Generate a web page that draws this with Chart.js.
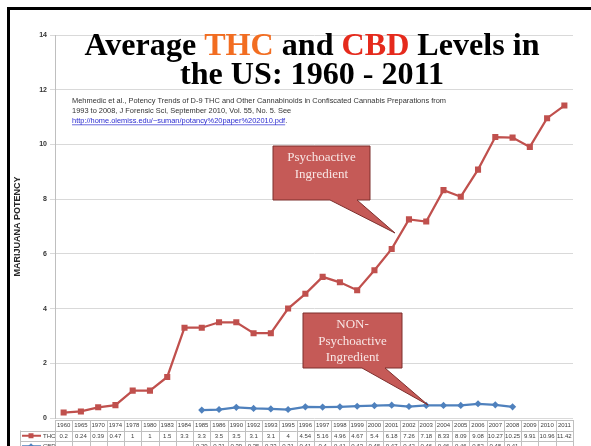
<!DOCTYPE html>
<html>
<head>
<meta charset="UTF-8">
<title>Average THC and CBD Levels in the US</title>
<script src="https://cdn.jsdelivr.net/npm/chart.js"></script>
<style>
  body { margin: 0; background: #fff; }
  #chart { display: block; }
</style>
</head>
<body>
<canvas id="chart" width="591" height="446"></canvas>
<script>
// data (Mehmedic et al. 2010 + later years)
var years = ['1960', '1965', '1970', '1974', '1978', '1980', '1983', '1984', '1985', '1986',
    '1990', '1992', '1993', '1995', '1996', '1997', '1998', '1999', '2000', '2001',
    '2002', '2003', '2004', '2005', '2006', '2007', '2008', '2009', '2010', '2011'];
var thc = [0.2, 0.24, 0.39, 0.47, 1, 1, 1.5, 3.3, 3.3, 3.5,
    3.5, 3.1, 3.1, 4, 4.54, 5.16, 4.96, 4.67, 5.4, 6.18,
    7.26, 7.18, 8.33, 8.09, 9.08, 10.27, 10.25, 9.91, 10.96, 11.42];
var cbd = [null, null, null, null, null, null, null, null, 0.29, 0.31,
    0.39, 0.35, 0.33, 0.31, 0.41, 0.4, 0.41, 0.43, 0.45, 0.47,
    0.42, 0.46, 0.46, 0.46, 0.52, 0.48, 0.41, null, null, null];

var THC_COLOR = '#c0504d';
var CBD_COLOR = '#4f81bd';

function callout(ctx, b, lines) {
    ctx.save();
    ctx.beginPath();
    ctx.moveTo(b.x, b.y);
    ctx.lineTo(b.x + b.w, b.y);
    ctx.lineTo(b.x + b.w, b.y + b.h);
    ctx.lineTo(b.b2, b.y + b.h);
    ctx.lineTo(b.tx, b.ty);
    ctx.lineTo(b.b1, b.y + b.h);
    ctx.lineTo(b.x, b.y + b.h);
    ctx.closePath();
    ctx.fillStyle = '#c55a57';
    ctx.fill();
    ctx.strokeStyle = '#7d2f2d';
    ctx.lineWidth = 1;
    ctx.stroke();
    ctx.fillStyle = '#f8e6e5';
    ctx.font = '13px "Liberation Serif"';
    ctx.textAlign = 'center';
    ctx.textBaseline = 'middle';
    lines.forEach(function (t, i) {
        ctx.fillText(t, b.x + b.w / 2, b.ly + i * 16.5);
    });
    ctx.restore();
}

var decor = {
    id: 'decor',
    afterDraw: function (chart) {
        var ctx = chart.ctx;
        var area = chart.chartArea;
        var xs = chart.scales.x;
        ctx.save();

        // slide frame
        ctx.fillStyle = '#000';
        ctx.fillRect(7, 7, 584, 3);
        ctx.fillRect(7, 7, 3, 439);

        // title
        ctx.font = 'bold 31px "Liberation Serif"';
        ctx.textBaseline = 'alphabetic';
        var l1 = [{t: 'Average ', c: '#000'}, {t: 'THC', c: '#f26d21'}, {t: ' and ', c: '#000'},
            {t: 'CBD', c: '#e52a1c'}, {t: ' Levels in', c: '#000'}];
        var l2 = [{t: 'the US: 1960 - 2011', c: '#000'}];
        var w1 = 0;
        l1.forEach(function (p) { w1 += ctx.measureText(p.t).width; });
        var sx = 455 / w1;
        [[l1, 55], [l2, 84]].forEach(function (row) {
            var tot = 0;
            row[0].forEach(function (p) { tot += ctx.measureText(p.t).width; });
            ctx.save();
            ctx.translate(312 - tot * sx / 2, row[1]);
            ctx.scale(sx, 1);
            var x = 0;
            row[0].forEach(function (p) {
                ctx.fillStyle = p.c;
                ctx.fillText(p.t, x, 0);
                x += ctx.measureText(p.t).width;
            });
            ctx.restore();
        });

        // citation
        ctx.font = '7px "Liberation Sans"';
        var c1 = 'Mehmedic et al., Potency Trends of D-9 THC and Other Cannabinoids in Confiscated Cannabis Preparations from';
        var c2 = '1993 to 2008, J Forensic Sci, September 2010, Vol. 55, No. 5. See';
        var c3 = 'http://home.olemiss.edu/~suman/potancy%20paper%202010.pdf';
        var cs = 374 / ctx.measureText(c1).width;
        ctx.save();
        ctx.translate(72, 0);
        ctx.scale(cs, 1);
        ctx.fillStyle = '#333';
        ctx.fillText(c1, 0, 103);
        ctx.fillText(c2, 0, 113);
        ctx.fillStyle = '#2b2bd0';
        ctx.fillText(c3, 0, 123);
        var lw = ctx.measureText(c3).width;
        ctx.fillRect(0, 124.5, lw, 0.7);
        ctx.fillStyle = '#333';
        ctx.fillText('.', lw, 123);
        ctx.restore();

        // callouts
        callout(ctx, {x: 273, y: 146, w: 97, h: 54, b1: 330, b2: 357, tx: 395, ty: 233, ly: 158},
            ['Psychoactive', 'Ingredient']);
        callout(ctx, {x: 303, y: 313, w: 99, h: 55, b1: 362, b2: 385, tx: 428, ty: 405, ly: 325},
            ['NON-', 'Psychoactive', 'Ingredient']);

        // data table under the axis
        var colW = (area.right - area.left) / years.length;
        var top = 420, rh = 10.5, legL = 20;
        ctx.strokeStyle = '#c0c0c0';
        ctx.lineWidth = 1;
        ctx.beginPath();
        ctx.moveTo(area.left, top + 0.5); ctx.lineTo(area.right, top + 0.5);
        for (var r = 1; r <= 3; r++) {
            var yy = Math.round(top + r * rh) + 0.5;
            ctx.moveTo(legL, yy); ctx.lineTo(area.right, yy);
        }
        for (var i = 0; i <= years.length; i++) {
            var xx = Math.round(area.left + i * colW) + 0.5;
            ctx.moveTo(xx, top); ctx.lineTo(xx, top + 3 * rh);
        }
        ctx.moveTo(legL + 0.5, top + rh); ctx.lineTo(legL + 0.5, top + 3 * rh);
        ctx.stroke();

        ctx.font = '6px "Liberation Sans"';
        ctx.textAlign = 'center';
        ctx.textBaseline = 'middle';
        ctx.fillStyle = '#404040';
        years.forEach(function (y, i) {
            var px = xs.getPixelForValue(i);
            ctx.fillText(y, px, top + rh * 0.5 + 0.5);
            ctx.fillText(String(thc[i]), px, top + rh * 1.5 + 0.5);
            if (cbd[i] !== null) ctx.fillText(String(cbd[i]), px, top + rh * 2.5 + 0.5);
        });

        // legend keys in the table
        [[THC_COLOR, 'THC', 'rect'], [CBD_COLOR, 'CBD', 'diamond']].forEach(function (k, r) {
            var cy = top + rh * (1.5 + r);
            ctx.strokeStyle = k[0];
            ctx.fillStyle = k[0];
            ctx.lineWidth = 2;
            ctx.beginPath();
            ctx.moveTo(22, cy); ctx.lineTo(41, cy);
            ctx.stroke();
            if (k[2] === 'rect') {
                ctx.fillRect(28.5, cy - 2.5, 5, 5);
            } else {
                ctx.beginPath();
                ctx.moveTo(31, cy - 3); ctx.lineTo(34, cy); ctx.lineTo(31, cy + 3); ctx.lineTo(28, cy);
                ctx.closePath(); ctx.fill();
            }
            ctx.fillStyle = '#404040';
            ctx.textAlign = 'left';
            ctx.fillText(k[1], 43, cy + 0.5);
        });

        ctx.restore();
    }
};

var ctx = document.getElementById('chart').getContext('2d');
var chart = new Chart(ctx, {
    type: 'line',
    data: {
        labels: years,
        datasets: [
            {
                label: 'THC',
                data: thc,
                borderColor: THC_COLOR,
                backgroundColor: THC_COLOR,
                borderWidth: 2.25,
                pointStyle: 'rect',
                pointRadius: 4.3,
                pointBorderWidth: 0,
                tension: 0,
            },
            {
                label: 'CBD',
                data: cbd,
                borderColor: CBD_COLOR,
                backgroundColor: CBD_COLOR,
                borderWidth: 2.25,
                pointStyle: 'rectRot',
                pointRadius: 3.6,
                pointBorderWidth: 0,
                tension: 0,
            },
        ],
    },
    options: {
        responsive: false,
        animation: false,
        devicePixelRatio: 1,
        layout: { padding: { left: 10, right: 18, top: 35, bottom: 28 } },
        plugins: {
            legend: { display: false },
            tooltip: { enabled: false },
        },
        scales: {
            x: { display: false, offset: true },
            y: {
                min: 0,
                max: 14,
                ticks: {
                    stepSize: 2,
                    padding: 3,
                    color: '#333',
                    font: { family: 'Liberation Sans', size: 7, weight: 'bold' },
                },
                grid: { color: '#d9d9d9', tickLength: 5, tickColor: '#d9d9d9' },
                border: { color: '#bfbfbf' },
                title: {
                    display: true,
                    text: 'MARIJUANA POTENCY',
                    color: '#262626',
                    padding: { top: 2, bottom: 0 },
                    font: { family: 'Liberation Sans', size: 9, weight: 'bold' },
                },
                afterFit: function (s) { s.width = 45; },
            },
        },
    },
    plugins: [decor],
});
</script>
</body>
</html>
